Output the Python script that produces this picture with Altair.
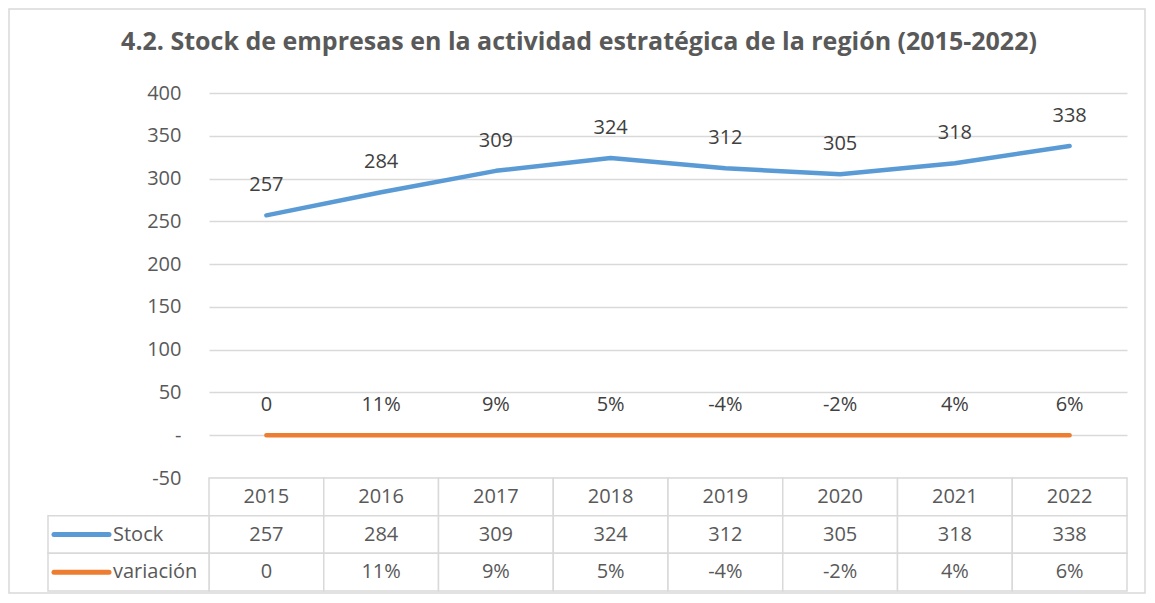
import altair as alt
import pandas as pd

# ---------------- data ----------------
years = ["2015", "2016", "2017", "2018", "2019", "2020", "2021", "2022"]
stock = [257, 284, 309, 324, 312, 305, 318, 338]
variacion = [0.0, 0.11, 0.09, 0.05, -0.04, -0.02, 0.04, 0.06]
series_names = ["Stock", "variación"]
series_colors = ["#5b9bd5", "#ed7d31"]
y_ticks = [-50, 0, 50, 100, 150, 200, 250, 300, 350, 400]
row_order = ["header", "Stock", "variación"]
title_text = "4.2. Stock de empresas en la actividad estratégica de la región (2015-2022)"

FONT = "Open Sans"
TXT = "#595959"
GRID = "#d9d9d9"


def pct(v):
    return "0" if v == 0 else f"{round(v * 100):d}%"


stock_labels = [str(s) for s in stock]
var_labels = [pct(v) for v in variacion]

lines_df = pd.DataFrame({
    "year": years * 2,
    "serie": ["Stock"] * len(years) + ["variación"] * len(years),
    "value": stock + variacion,
    "label": stock_labels + var_labels,
})

table_df = pd.DataFrame({
    "year": years * 3,
    "row": ["header"] * len(years) + ["Stock"] * len(years) + ["variación"] * len(years),
    "text": years + stock_labels + var_labels,
})

legend_df = pd.DataFrame({"row": series_names, "serie": series_names})
one_df = pd.DataFrame({"a": [0]})

color = alt.Color("serie:N", scale=alt.Scale(domain=series_names, range=series_colors), legend=None)

# ---------------- main chart ----------------
x_main = alt.X("year:N", scale=alt.Scale(type="point", padding=0.5, domain=years), axis=None)
y_main = alt.Y(
    "value:Q",
    scale=alt.Scale(domain=[-50, 400], nice=False, zero=False),
    axis=alt.Axis(
        values=y_ticks,
        labelExpr="datum.value == 0 ? '-' : '' + datum.value",
        grid=True, gridColor=GRID, gridWidth=1.5,
        domain=False, ticks=False, tickSize=0, labelPadding=28,
        labelFontSize=20, labelColor=TXT, labelFont=FONT, title=None,
    ),
)

border = alt.Chart(one_df).mark_rect(filled=False, stroke=GRID, strokeWidth=1.5).encode(
    x=alt.value(-200), x2=alt.value(936), y=alt.value(-84), y2=alt.value(500)
)

title = alt.Chart(one_df).mark_text(
    text=title_text, font=FONT, fontSize=25, fontWeight="bold", color=TXT,
    align="center", baseline="alphabetic",
).encode(x=alt.value(370), y=alt.value(-43))

lines = alt.Chart(lines_df).mark_line(strokeWidth=4.5, strokeCap="round", strokeJoin="round").encode(
    x=x_main, y=y_main, color=color, detail="serie:N"
)

labels = alt.Chart(lines_df).mark_text(
    dy=-30, font=FONT, fontSize=20, color="#404040", baseline="middle"
).encode(x=x_main, y=y_main, text="label:N")

main = alt.layer(border, title, lines, labels).properties(width=918, height=385)

# ---------------- data table ----------------
x_tab = alt.X("year:N", scale=alt.Scale(type="band", domain=years, paddingInner=0, paddingOuter=0), axis=None)
y_tab = alt.Y("row:N", scale=alt.Scale(type="band", domain=row_order, paddingInner=0, paddingOuter=0), axis=None)

cells = alt.Chart(table_df).mark_rect(fill="white", stroke=GRID, strokeWidth=1.5).encode(x=x_tab, y=y_tab)
cell_text = alt.Chart(table_df).mark_text(font=FONT, fontSize=20, color=TXT, baseline="middle").encode(
    x=x_tab, y=y_tab, text="text:N"
)
leg_cells = alt.Chart(legend_df).mark_rect(fill="white", stroke=GRID, strokeWidth=1.5).encode(
    x=alt.value(-161), x2=alt.value(0), y=y_tab
)
leg_lines = alt.Chart(legend_df).mark_rule(strokeWidth=5, strokeCap="round").encode(
    x=alt.value(-155), x2=alt.value(-100), y=y_tab, color=color
)
leg_text = alt.Chart(legend_df).mark_text(font=FONT, fontSize=20, color=TXT, align="left", baseline="middle").encode(
    x=alt.value(-96), y=y_tab, text="row:N"
)

table = alt.layer(cells, cell_text, leg_cells, leg_lines, leg_text).properties(width=918, height=113)

chart = alt.vconcat(main, table, spacing=0, bounds="flush").resolve_scale(
    x="independent", y="independent"
).properties(padding=0, background="white").configure_view(stroke=None)

chart.save("out.html", embed_options={"renderer": "svg", "actions": False})
